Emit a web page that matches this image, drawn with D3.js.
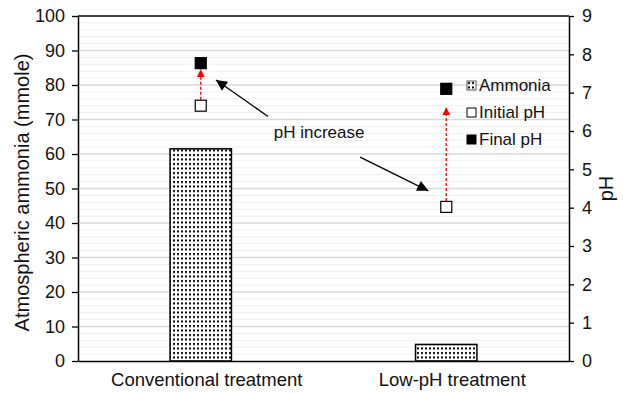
<!DOCTYPE html>
<html>
<head>
<meta charset="utf-8">
<script src="https://cdn.jsdelivr.net/npm/d3@7"></script>
<style>
  body { margin: 0; background: #fff; }
  svg { display: block; font-family: "Liberation Sans", Arial, sans-serif; }
</style>
</head>
<body>
<main></main>
<script>
const categories = ["Conventional treatment", "Low-pH treatment"];
const ammonia = [61.5, 4.8];
const initialPH = [6.66, 4.02];
const finalPH = [7.77, 7.1];
const redArrowTip = [7.61, 6.62];
const leftTicks = d3.range(0, 101, 10);
const leftMinor = d3.range(0, 101, 2);
const rightTicks = d3.range(0, 10, 1);
const seriesNames = ["Ammonia", "Initial pH", "Final pH"];
// annotation arrows in (category position, pH) units
const noteText = "pH increase";
const notePos = [0.982, 5.83];
const arrowFrom = [[0.774, 6.38], [1.149, 5.32]];
const arrowTo = [[0.562, 7.33], [1.427, 4.44]];

const width = 623;
const height = 393;
const margin = { top: 16, right: 54, bottom: 32, left: 78 };

const svg = d3.select("main").append("svg").attr("width", width).attr("height", height);
const defs = svg.append("defs");

const pat = defs.append("pattern")
  .attr("id", "dots")
  .attr("patternUnits", "userSpaceOnUse")
  .attr("width", 4)
  .attr("height", 4.5);
pat.append("rect").attr("width", 4).attr("height", 4.5).attr("fill", "#fff");
pat.append("rect").attr("x", 1).attr("y", 1).attr("width", 2).attr("height", 2).attr("fill", "#000");

defs.append("marker")
  .attr("id", "blackHead")
  .attr("markerUnits", "userSpaceOnUse")
  .attr("viewBox", "0 0 10 10")
  .attr("refX", 10).attr("refY", 5)
  .attr("markerWidth", 13).attr("markerHeight", 11)
  .attr("orient", "auto")
  .append("path").attr("d", "M0,0 L10,5 L0,10 Z").attr("fill", "#000");

defs.append("marker")
  .attr("id", "redHead")
  .attr("markerUnits", "userSpaceOnUse")
  .attr("viewBox", "0 0 10 10")
  .attr("refX", 10).attr("refY", 5)
  .attr("markerWidth", 8).attr("markerHeight", 8)
  .attr("orient", "auto")
  .append("path").attr("d", "M0,0 L10,5 L0,10 Z").attr("fill", "#ff0000");

const x = d3.scaleBand()
  .domain(categories)
  .range([margin.left, width - margin.right])
  .paddingInner(0.75)
  .paddingOuter(0.375);

const xPos = d3.scaleLinear()
  .domain([0, categories.length])
  .range([margin.left, width - margin.right]);

const yLeft = d3.scaleLinear().domain([0, 100]).range([height - margin.bottom, margin.top]);
const yRight = d3.scaleLinear().domain([0, 9]).range([height - margin.bottom, margin.top]);

const cx = (c) => x(c) + x.bandwidth() / 2;

// gridlines
svg.append("g")
  .selectAll("line")
  .data(leftMinor.filter((d) => d % 10 !== 0))
  .enter()
  .append("line")
  .attr("x1", margin.left).attr("x2", width - margin.right)
  .attr("y1", (d) => yLeft(d)).attr("y2", (d) => yLeft(d))
  .attr("stroke", "#efefef").attr("stroke-width", 1);

svg.append("g")
  .selectAll("line")
  .data(leftTicks.slice(1, -1))
  .enter()
  .append("line")
  .attr("x1", margin.left).attr("x2", width - margin.right)
  .attr("y1", (d) => yLeft(d)).attr("y2", (d) => yLeft(d))
  .attr("stroke", "#d9d9d9").attr("stroke-width", 1.5);

// bars
svg.append("g")
  .selectAll("rect")
  .data(categories)
  .enter()
  .append("rect")
  .attr("x", (d) => x(d))
  .attr("y", (d, i) => yLeft(ammonia[i]))
  .attr("width", x.bandwidth())
  .attr("height", (d, i) => yLeft(0) - yLeft(ammonia[i]))
  .attr("fill", "url(#dots)")
  .attr("stroke", "#000")
  .attr("stroke-width", 1.5);

// frame top
svg.append("line")
  .attr("x1", margin.left).attr("x2", width - margin.right)
  .attr("y1", margin.top).attr("y2", margin.top)
  .attr("stroke", "#000").attr("stroke-width", 1.5);

// axes
const leftAxis = svg.append("g")
  .attr("transform", `translate(${margin.left},0)`)
  .call(d3.axisLeft(yLeft).tickValues(leftTicks).tickSize(6).tickPadding(7).tickSizeOuter(0));
const rightAxis = svg.append("g")
  .attr("transform", `translate(${width - margin.right},0)`)
  .call(d3.axisRight(yRight).tickValues(rightTicks).tickSize(5).tickPadding(8).tickSizeOuter(0));
const bottomAxis = svg.append("g")
  .attr("transform", `translate(0,${height - margin.bottom})`)
  .call(d3.axisBottom(x).tickSize(0).tickPadding(12).tickSizeOuter(0));

[leftAxis, rightAxis, bottomAxis].forEach((g) => {
  g.select(".domain").attr("stroke", "#000").attr("stroke-width", 1.5);
  g.selectAll(".tick line").attr("stroke", "#000").attr("stroke-width", 1.3);
  g.selectAll("text")
    .attr("fill", "#111")
    .style("font-family", "'Liberation Sans', Arial, sans-serif")
    .style("font-size", "18px");
});
bottomAxis.selectAll("text").attr("dy", "0.71em").attr("dx", 6).style("font-size", "18.5px");

// axis titles
svg.append("text")
  .attr("transform", `translate(22,${(margin.top + height - margin.bottom) / 2 + 4}) rotate(-90)`)
  .attr("text-anchor", "middle")
  .attr("dy", "0.35em")
  .style("font-size", "20px")
  .attr("fill", "#111")
  .text("Atmospheric ammonia (mmole)");

svg.append("text")
  .attr("transform", `translate(606,${(margin.top + height - margin.bottom) / 2}) rotate(-90)`)
  .attr("text-anchor", "middle")
  .attr("dy", "0.35em")
  .style("font-size", "20px")
  .attr("fill", "#111")
  .text("pH");

// red dashed arrows (initial -> final)
svg.append("g")
  .selectAll("line")
  .data(categories)
  .enter()
  .append("line")
  .attr("x1", (d) => cx(d)).attr("x2", (d) => cx(d))
  .attr("y1", (d, i) => yRight(initialPH[i]) - 6)
  .attr("y2", (d, i) => yRight(redArrowTip[i]))
  .attr("stroke", "#ff0000")
  .attr("stroke-width", 1.3)
  .attr("stroke-dasharray", "3,2")
  .attr("marker-end", "url(#redHead)");

// markers
svg.append("g")
  .selectAll("rect")
  .data(categories)
  .enter()
  .append("rect")
  .attr("x", (d) => cx(d) - 5.5)
  .attr("y", (d, i) => yRight(initialPH[i]) - 5.5)
  .attr("width", 11).attr("height", 11)
  .attr("fill", "#fff").attr("stroke", "#000").attr("stroke-width", 1.2);

svg.append("g")
  .selectAll("rect")
  .data(categories)
  .enter()
  .append("rect")
  .attr("x", (d) => cx(d) - 5.5)
  .attr("y", (d, i) => yRight(finalPH[i]) - 5.5)
  .attr("width", 11).attr("height", 11)
  .attr("fill", "#000").attr("stroke", "#000").attr("stroke-width", 1.2);

// annotation
svg.append("text")
  .attr("x", xPos(notePos[0]))
  .attr("y", yRight(notePos[1]))
  .attr("text-anchor", "middle")
  .style("font-size", "17px")
  .attr("fill", "#111")
  .text(noteText);

svg.append("g")
  .selectAll("line")
  .data(arrowFrom)
  .enter()
  .append("line")
  .attr("x1", (d) => xPos(d[0])).attr("y1", (d) => yRight(d[1]))
  .attr("x2", (d, i) => xPos(arrowTo[i][0])).attr("y2", (d, i) => yRight(arrowTo[i][1]))
  .attr("stroke", "#000").attr("stroke-width", 1.3)
  .attr("marker-end", "url(#blackHead)");

// legend
const legend = svg.append("g").attr("transform", "translate(467,0)");
const legendRows = legend.selectAll("g")
  .data(seriesNames)
  .enter()
  .append("g")
  .attr("transform", (d, i) => `translate(0,${81 + i * 27})`);
legendRows.append("rect")
  .attr("width", 9).attr("height", 9)
  .attr("fill", (d, i) => (i === 0 ? "url(#dots)" : i === 1 ? "#fff" : "#000"))
  .attr("stroke", (d, i) => (i === 0 ? "#555" : "#000"))
  .attr("stroke-width", 1);
legendRows.append("text")
  .attr("x", 12)
  .attr("y", 10)
  .style("font-size", "17px")
  .attr("fill", "#111")
  .text((d) => d);
</script>
</body>
</html>
